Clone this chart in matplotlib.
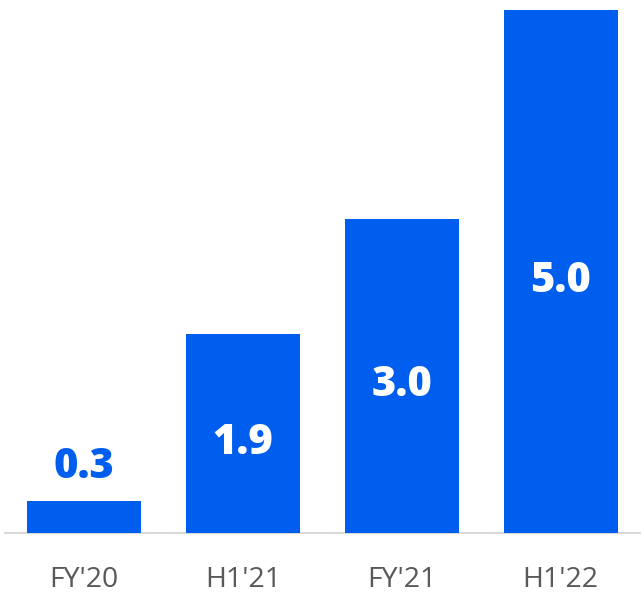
import matplotlib.pyplot as plt

plt.rcParams['font.family'] = ['Open Sans', 'DejaVu Sans']

periods = ["FY'20", "H1'21", "FY'21", "H1'22"]
values = [0.3, 1.9, 3.0, 5.0]
value_labels = ["0.3", "1.9", "3.0", "5.0"]

BLUE = '#005EEE'
W, H = 644, 593

fig = plt.figure(figsize=(W / 100, H / 100), dpi=100)
# axes placed in pixel terms: baseline at y=532.5, x from 4.6 to 640
ax = fig.add_axes([4.6 / W, (H - 532.5) / H, (640 - 4.6) / W, 528.2 / H])

x = range(len(periods))
bars = ax.bar(x, values, width=0.717, color=BLUE, zorder=2)

ax.set_xlim(-0.5, 3.5)
ax.set_ylim(0, 5.05)

for b, v, lab in zip(bars, values, value_labels):
    cx = b.get_x() + b.get_width() / 2
    if v < 1:
        ax.annotate(lab, (cx, v), xytext=(0, 16.5), textcoords='offset points',
                    ha='center', va='baseline', color=BLUE,
                    fontsize=30, fontweight='heavy')
    else:
        ax.annotate(lab, (cx, v / 2), xytext=(0, -14.8), textcoords='offset points',
                    ha='center', va='baseline', color='white',
                    fontsize=30, fontweight='heavy')

ax.set_xticks(list(x))
ax.set_xticklabels(periods, fontsize=20.5, color='#595959')
ax.tick_params(axis='x', length=0, pad=24)
ax.set_yticks([])

for side in ('left', 'right', 'top'):
    ax.spines[side].set_visible(False)
ax.spines['bottom'].set_color('#D9D9D9')
ax.spines['bottom'].set_linewidth(1.5)
ax.spines['bottom'].set_zorder(1)

fig.savefig('out.png', dpi=100)
